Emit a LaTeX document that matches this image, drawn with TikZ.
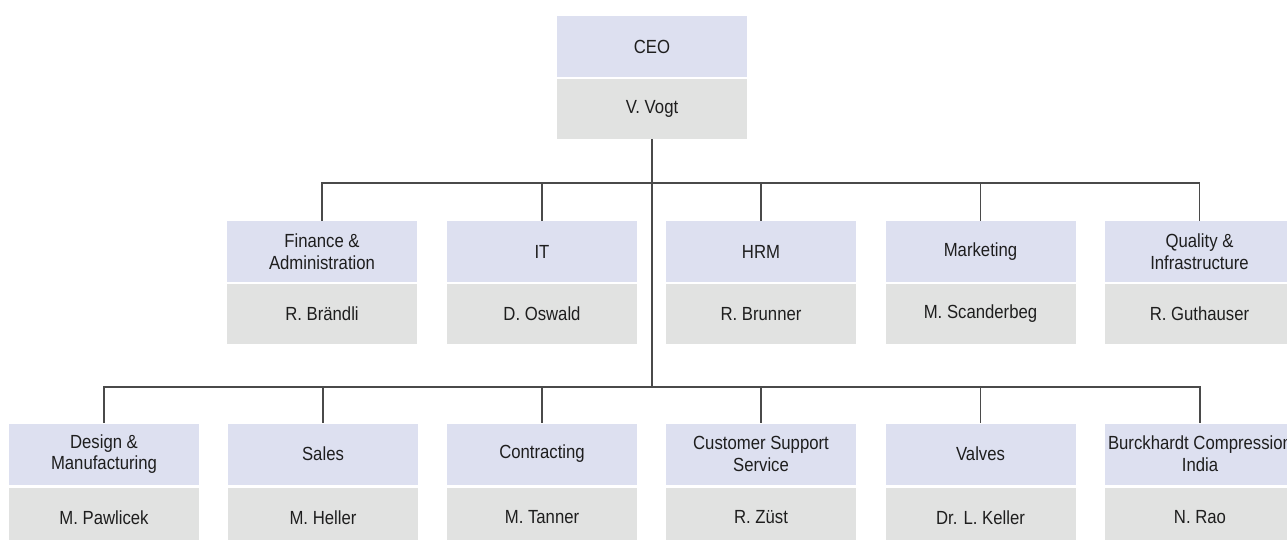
\documentclass[tikz,border=0pt]{standalone}
\usepackage{fontspec}
\setmainfont{Liberation Sans}[FakeStretch=0.88]
\definecolor{headfill}{HTML}{DDE0F0}
\definecolor{namefill}{HTML}{E1E2E1}
\definecolor{linecol}{HTML}{4A4A4A}
\definecolor{txt}{HTML}{1E1E1E}
\tikzset{
  unitbox/.style={minimum width=190pt, inner sep=0pt, align=center, text=txt,
    font=\fontsize{19}{21.7}\selectfont},
  headbox/.style={unitbox, fill=headfill, minimum height=61pt},
  namebox/.style={unitbox, fill=namefill, minimum height=60pt},
  link/.style={draw=linecol, line width=1.3pt}
}
\begin{document}
\begin{tikzpicture}[x=1pt, y=-1pt]
\useasboundingbox (0,0) rectangle (1287,540);
\clip (0,0) rectangle (1287,540);

% chief executive
\node[headbox] (ceo) at (652,46.5) {CEO};
\node[namebox] (ceon) at (652,109) {V. Vogt};

% first level of departments
\node[headbox] (fin) at (322,251.5) {Finance \&\\Administration};
\node[namebox] (finn) at (322,314) {R. Brändli};
\node[headbox] (it) at (542,251.5) {IT};
\node[namebox] (itn) at (542,314) {D. Oswald};
\node[headbox] (hrm) at (761,251.5) {HRM};
\node[namebox] (hrmn) at (761,314) {R. Brunner};
\node[headbox] (mkt) at (980.5,251.5) {Marketing};
\node[namebox] (mktn) at (980.5,314) {M. Scanderbeg};
\node[headbox] (qi) at (1199.5,251.5) {Quality \&\\Infrastructure};
\node[namebox] (qin) at (1199.5,314) {R. Guthauser};

% second level of divisions
\node[headbox] (dm) at (104,454) {Design \&\\Manufacturing};
\node[namebox] (dmn) at (104,517.5) {M. Pawlicek};
\node[headbox] (sal) at (323,454) {Sales};
\node[namebox] (saln) at (323,517.5) {M. Heller};
\node[headbox] (con) at (542,454) {Contracting};
\node[namebox] (conn) at (542,517.5) {M. Tanner};
\node[headbox] (css) at (761,454) {Customer Support\\Service};
\node[namebox] (cssn) at (761,517.5) {R. Züst};
\node[headbox] (val) at (980.5,454) {Valves};
\node[namebox] (valn) at (980.5,517.5) {Dr. L. Keller};
\node[headbox] (bci) at (1200,454) {Burckhardt Compression\\India};
\node[namebox] (bcin) at (1200,517.5) {N. Rao};

% connectors
\coordinate (upper) at (652,183);
\coordinate (lower) at (652,387);
\draw[link] (ceon.south) -- (lower);
\foreach \d in {fin,it,hrm,mkt,qi}
  \draw[link] (upper) -| (\d.north);
\foreach \d in {dm,sal,con,css,val,bci}
  \draw[link] (lower) -| (\d.north);
\end{tikzpicture}
\end{document}
